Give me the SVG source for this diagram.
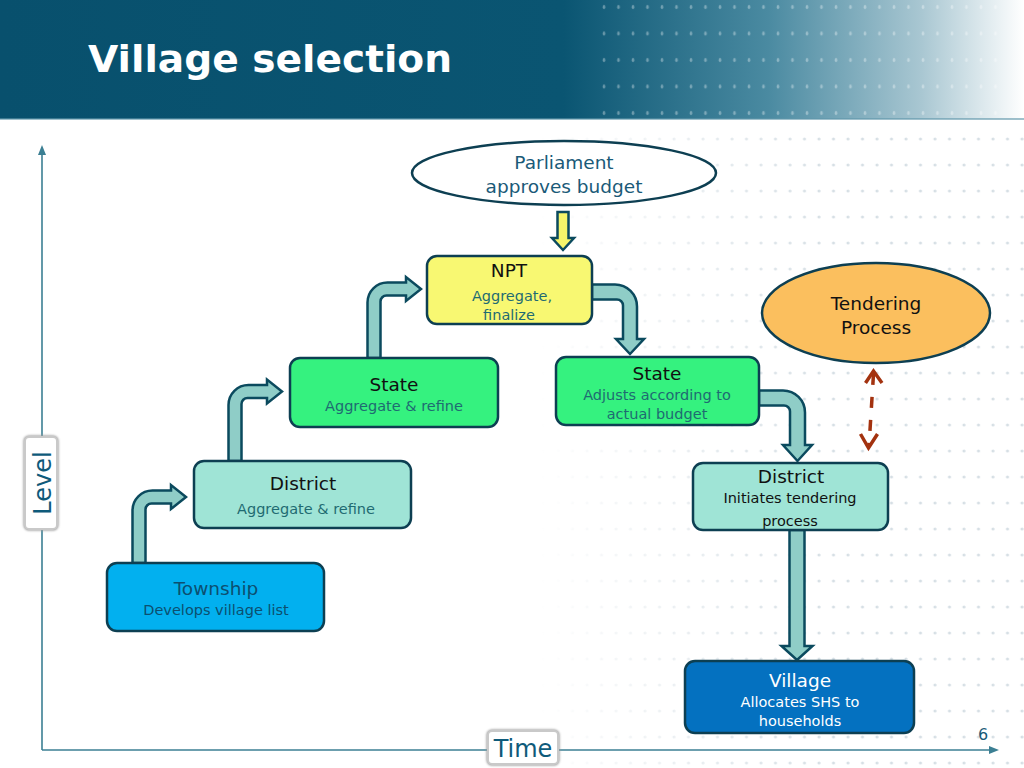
<svg xmlns="http://www.w3.org/2000/svg" width="1024" height="768" viewBox="0 0 1024 768">
<defs>
<linearGradient id="hdr" x1="0" y1="0" x2="1024" y2="0" gradientUnits="userSpaceOnUse">
<stop offset="0" stop-color="#08506d"/>
<stop offset="0.55" stop-color="#0a5572"/>
<stop offset="0.75" stop-color="#4a8aa1"/>
<stop offset="0.9" stop-color="#a9c7d2"/>
<stop offset="1" stop-color="#ffffff"/>
</linearGradient>
<pattern id="hdots" x="600" y="0" width="14.5" height="26.5" patternUnits="userSpaceOnUse">
<ellipse cx="4" cy="7" rx="1.3" ry="2" fill="#ffffff" fill-opacity="0.35"/>
</pattern>
<pattern id="bdots" x="0" y="0" width="14.5" height="26" patternUnits="userSpaceOnUse">
<circle cx="7" cy="9" r="1.6" fill="#cdd8df"/>
</pattern>
<linearGradient id="fadeG" x1="540" y1="0" x2="820" y2="0" gradientUnits="userSpaceOnUse">
<stop offset="0" stop-color="#000"/>
<stop offset="1" stop-color="#fff"/>
</linearGradient>
<mask id="fadeM" maskUnits="userSpaceOnUse" x="0" y="0" width="1024" height="768">
<rect x="0" y="0" width="1024" height="768" fill="url(#fadeG)"/>
</mask>
<filter id="sh" x="-30%" y="-30%" width="160%" height="160%">
<feGaussianBlur stdDeviation="1.2"/>
</filter>
<style>
.t{font-family:"DejaVu Sans","Liberation Sans",sans-serif;text-anchor:middle}
.box{stroke:#0d3f52;stroke-width:2.5}
.arr{fill:#8fcdc7;stroke:#0b4a5e;stroke-width:2.5;stroke-linejoin:miter}
.h{font-size:18.5px}
.s{font-size:14.5px}
.ax{stroke:#3b7f93;stroke-width:1.6;fill:none}
</style>
</defs>
<rect x="0" y="0" width="1024" height="768" fill="#ffffff"/>
<rect x="540" y="126" width="484" height="642" fill="url(#bdots)" mask="url(#fadeM)" opacity="0.8"/>
<rect x="0" y="0" width="1024" height="119" fill="url(#hdr)"/>
<rect x="596" y="0" width="410" height="119" fill="url(#hdots)"/>
<rect x="0" y="118" width="1024" height="2" fill="#5f96aa" opacity="0.6"/>
<text x="88" y="72" font-family="DejaVu Sans,Liberation Sans,sans-serif" font-weight="bold" font-size="38" fill="#ffffff" textLength="364" lengthAdjust="spacingAndGlyphs">Village selection</text>

<g id="axes">
<line class="ax" x1="42" y1="152" x2="42" y2="750"/>
<polygon points="42,145 38,155 46,155" fill="#3b7f93"/>
<line class="ax" x1="42" y1="750" x2="990" y2="750"/>
<polygon points="999,750 989,746 989,754" fill="#3b7f93"/>
</g>
<g id="level-label">
<rect x="25" y="437" width="32" height="92" rx="4" fill="none" stroke="#9a9a9a" stroke-width="3" filter="url(#sh)"/>
<rect x="25" y="437" width="32" height="92" rx="4" fill="#ffffff" stroke="#c9c9c9" stroke-width="2"/>
<text class="t" transform="translate(51,483) rotate(-90)" font-size="24" fill="#0e5a7a">Level</text>
</g>
<g id="time-label">
<rect x="488" y="731" width="70" height="33" rx="4" fill="none" stroke="#9a9a9a" stroke-width="3" filter="url(#sh)"/>
<rect x="488" y="731" width="70" height="33" rx="4" fill="#ffffff" stroke="#c9c9c9" stroke-width="2"/>
<text class="t" x="523" y="757" font-size="24" fill="#0e5a7a">Time</text>
</g>

<g id="connectors">
<!-- Parliament -> NPT -->
<path d="M557.5,212 L568.5,212 L568.5,238 L574,238 L563,250 L552,238 L557.5,238 Z" fill="#f5f56a" stroke="#0b4a5e" stroke-width="2.5"/>
<!-- Township -> District -->
<path class="arr" d="M132.5,563 L132.5,510.5 A20,20 0 0 1 152.5,490.5 L171,490.5 L171,485 L186,497 L171,509 L171,503.5 L151.5,503.5 A6,6 0 0 0 145.5,509.5 L145.5,563 Z"/>
<!-- District -> State -->
<path class="arr" d="M228.5,461 L228.5,405 A20,20 0 0 1 248.5,385 L267,385 L267,379.5 L282,391.5 L267,403.5 L267,398 L247.5,398 A6,6 0 0 0 241.5,404 L241.5,461 Z"/>
<!-- State -> NPT -->
<path class="arr" d="M367.5,358 L367.5,302.5 A20,20 0 0 1 387.5,282.5 L406,282.5 L406,277 L421,289 L406,301 L406,295.5 L386.5,295.5 A6,6 0 0 0 380.5,301.5 L380.5,358 Z"/>
<!-- NPT -> State (right) -->
<path class="arr" d="M592,284.5 L615,284.5 A22,22 0 0 1 637,306.5 L637,339 L644,339 L630,354 L616,339 L623,339 L623,305.5 A6,6 0 0 0 617,299.5 L592,299.5 Z"/>
<!-- State (right) -> District (right) -->
<path class="arr" d="M759,390.5 L783,390.5 A22,22 0 0 1 805,412.5 L805,445 L812,445 L797.5,461 L783,445 L790,445 L790,411.5 A6,6 0 0 0 784,405.5 L759,405.5 Z"/>
<!-- District (right) -> Village -->
<path class="arr" d="M789.5,530 L804.5,530 L804.5,646 L812.5,646 L797,660 L781.5,646 L789.5,646 Z"/>
<!-- Tendering <-> District dashed -->
<g stroke="#a3320f" stroke-width="3.5" fill="none" stroke-linecap="butt">
<line x1="873.5" y1="374" x2="869" y2="446" stroke-dasharray="11 12"/>
<polyline points="865.5,383 873.5,371 882,383" stroke-linejoin="miter"/>
<polyline points="860.5,434 868.5,448 877.5,434" stroke-linejoin="miter"/>
</g>
</g>

<g id="parliament">
<ellipse cx="564" cy="173" rx="152" ry="32" fill="#ffffff" stroke="#0d3f52" stroke-width="2.5"/>
<text class="t h" x="564" y="169" fill="#1a5a78">Parliament</text>
<text class="t h" x="564" y="193" fill="#1a5a78">approves budget</text>
</g>
<g id="npt">
<rect class="box" x="427" y="256" width="165" height="68" rx="10" fill="#f8f872"/>
<text class="t h" x="509" y="277" fill="#111111">NPT</text>
<text class="t s" x="512" y="301" fill="#1f6b72">Aggregate,</text>
<text class="t s" x="509" y="320" fill="#1f6b72">finalize</text>
</g>
<g id="state-left">
<rect class="box" x="290" y="358" width="208" height="69" rx="10" fill="#35f27f"/>
<text class="t h" x="394" y="391" fill="#111111">State</text>
<text class="t s" x="394" y="411" fill="#1f6b72">Aggregate &amp; refine</text>
</g>
<g id="state-right">
<rect class="box" x="556" y="357" width="203" height="68" rx="10" fill="#35f27f"/>
<text class="t h" x="657" y="380" fill="#111111">State</text>
<text class="t s" x="657" y="400" fill="#1f6b72">Adjusts according to</text>
<text class="t s" x="657" y="419" fill="#1f6b72">actual budget</text>
</g>
<g id="district-left">
<rect class="box" x="194" y="461" width="217" height="67" rx="10" fill="#9fe4d6"/>
<text class="t h" x="303" y="490" fill="#111111">District</text>
<text class="t s" x="306" y="514" fill="#1f6b72">Aggregate &amp; refine</text>
</g>
<g id="district-right">
<rect class="box" x="693" y="463" width="195" height="67" rx="10" fill="#9fe4d6"/>
<text class="t h" x="791" y="483" fill="#111111">District</text>
<text class="t s" x="790" y="503" fill="#111111">Initiates tendering</text>
<text class="t s" x="790" y="526" fill="#111111">process</text>
</g>
<g id="township">
<rect class="box" x="107" y="563" width="217" height="68" rx="10" fill="#02b0ef"/>
<text class="t h" x="216" y="595" fill="#0c4f70">Township</text>
<text class="t s" x="216" y="615" fill="#0c4f70">Develops village list</text>
</g>
<g id="village">
<rect class="box" x="685" y="661" width="229" height="72" rx="10" fill="#0471c0"/>
<text class="t h" x="800" y="687" fill="#ffffff">Village</text>
<text class="t s" x="800" y="707" fill="#ffffff">Allocates SHS to</text>
<text class="t s" x="800" y="726" fill="#ffffff">households</text>
</g>
<g id="tendering">
<ellipse cx="876" cy="313" rx="114" ry="50" fill="#fbbf5e" stroke="#0d3f52" stroke-width="2.5"/>
<text class="t h" x="876" y="310" fill="#111111">Tendering</text>
<text class="t h" x="876" y="334" fill="#111111">Process</text>
</g>
<text class="t" x="983" y="740" font-size="16" fill="#1a5a78">6</text>
</svg>
